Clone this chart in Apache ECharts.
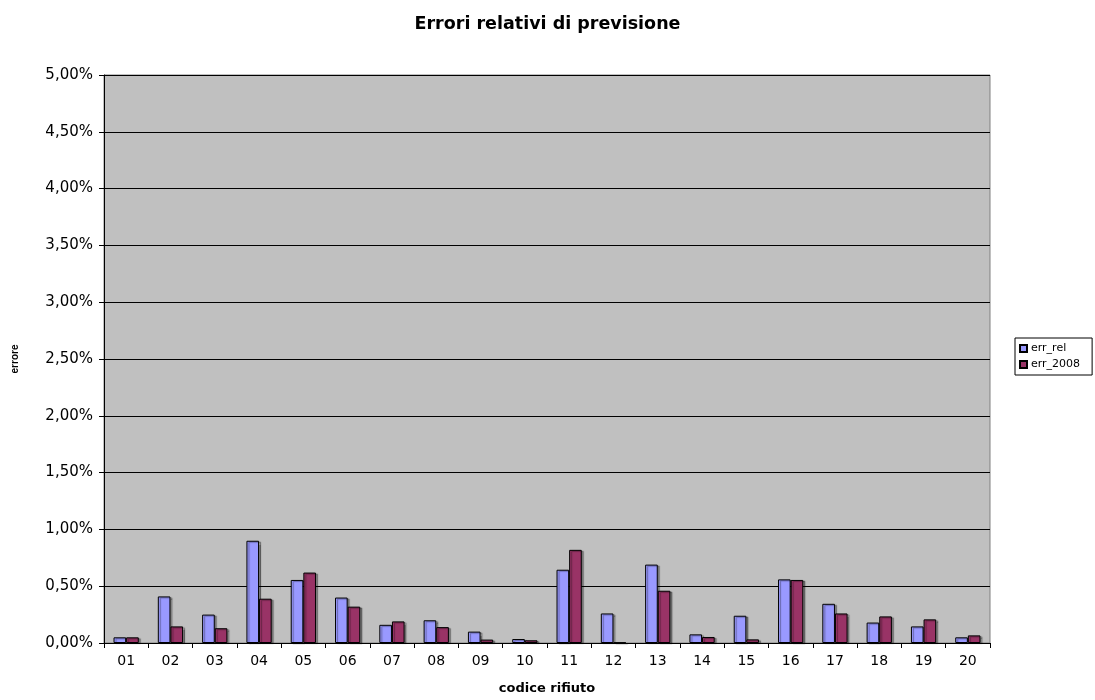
<!DOCTYPE html>
<html>
<head>
<meta charset="utf-8">
<title>Errori relativi di previsione</title>
<script src="https://cdn.jsdelivr.net/npm/echarts@6/dist/echarts.min.js"></script>
<style>
  html, body { margin: 0; padding: 0; background: #ffffff; }
  #chart { width: 1095px; height: 700px; }
</style>
</head>
<body>
<div id="chart"></div>
<script>
// Waste codes on the category axis
const categories = ['01','02','03','04','05','06','07','08','09','10',
                    '11','12','13','14','15','16','17','18','19','20'];

// Relative forecast errors, in percent
const errRel  = [0.05, 0.41, 0.25, 0.90, 0.555, 0.40, 0.16, 0.20, 0.10, 0.035,
                 0.645, 0.26, 0.69, 0.076, 0.24, 0.56, 0.345, 0.18, 0.146, 0.05];
const err2008 = [0.05, 0.146, 0.13, 0.39, 0.62, 0.32, 0.19, 0.14, 0.03, 0.024,
                 0.82, 0.005, 0.46, 0.053, 0.032, 0.555, 0.26, 0.234, 0.208, 0.067];

// Value axis range and step, in percent
const yMin = 0;
const yMax = 5;
const yStep = 0.5;

const fmtPct = v => Number(v).toFixed(2).replace('.', ',') + '%';
const FONT = '"DejaVu Sans", "Liberation Sans", Arial, sans-serif';
const NARROW = '"Liberation Sans", Arial, sans-serif';

const barStyle = color => ({
  color: color,
  borderColor: '#000000',
  borderWidth: 1,
  shadowColor: 'rgba(0,0,0,0.35)',
  shadowOffsetX: 2,
  shadowOffsetY: 1,
  shadowBlur: 1
});

const chart = echarts.init(document.getElementById('chart'), null, { renderer: 'canvas' });

chart.setOption({
  backgroundColor: '#ffffff',
  animation: false,
  title: {
    text: 'Errori relativi di previsione',
    left: 'center',
    top: 10,
    textStyle: { fontFamily: FONT, fontSize: 17.5, fontWeight: 'bold', color: '#000000' }
  },
  legend: {
    orient: 'vertical',
    left: 1015,
    top: 338,
    padding: [5, 12, 5, 4],
    itemGap: 5,
    itemWidth: 7,
    itemHeight: 7,
    borderColor: '#000000',
    borderWidth: 1,
    icon: 'rect',
    textStyle: { fontFamily: FONT, fontSize: 11, color: '#000000', padding: [0, 0, 0, -1] },
    data: ['err_rel', 'err_2008']
  },
  grid: {
    left: 104,
    right: 105,
    top: 75,
    bottom: 55,
    show: true,
    backgroundColor: '#C0C0C0',
    borderColor: '#808080',
    borderWidth: 1
  },
  xAxis: {
    type: 'category',
    data: categories,
    name: 'codice rifiuto',
    nameLocation: 'middle',
    nameGap: 39,
    nameTextStyle: { fontFamily: FONT, fontSize: 13, fontWeight: 'bold', color: '#000000' },
    axisLine: { show: true, lineStyle: { color: '#000000', width: 1 } },
    axisTick: { show: true, alignWithLabel: false, length: 5, lineStyle: { color: '#000000' } },
    axisLabel: { fontFamily: FONT, fontSize: 14, color: '#000000', margin: 11 },
    splitLine: { show: false }
  },
  yAxis: {
    type: 'value',
    min: yMin,
    max: yMax,
    interval: yStep,
    name: 'errore',
    nameLocation: 'middle',
    nameRotate: 90,
    nameGap: 84,
    nameTextStyle: { fontFamily: NARROW, fontSize: 10, fontWeight: 'bold', color: '#000000' },
    axisLine: { show: true, lineStyle: { color: '#000000', width: 1 } },
    axisTick: { show: true, inside: false, length: 5, lineStyle: { color: '#000000' } },
    axisLabel: { fontFamily: FONT, fontSize: 15, color: '#000000', margin: 11, formatter: fmtPct },
    splitLine: { show: true, lineStyle: { color: '#000000', width: 1 } }
  },
  series: [
    {
      name: 'err_rel',
      type: 'bar',
      data: errRel,
      barGap: '0%',
      barCategoryGap: '43%',
      itemStyle: barStyle('#9999FF')
    },
    {
      name: 'err_2008',
      type: 'bar',
      data: err2008,
      barGap: '0%',
      barCategoryGap: '43%',
      itemStyle: barStyle('#993366')
    }
  ]
});
</script>
</body>
</html>
